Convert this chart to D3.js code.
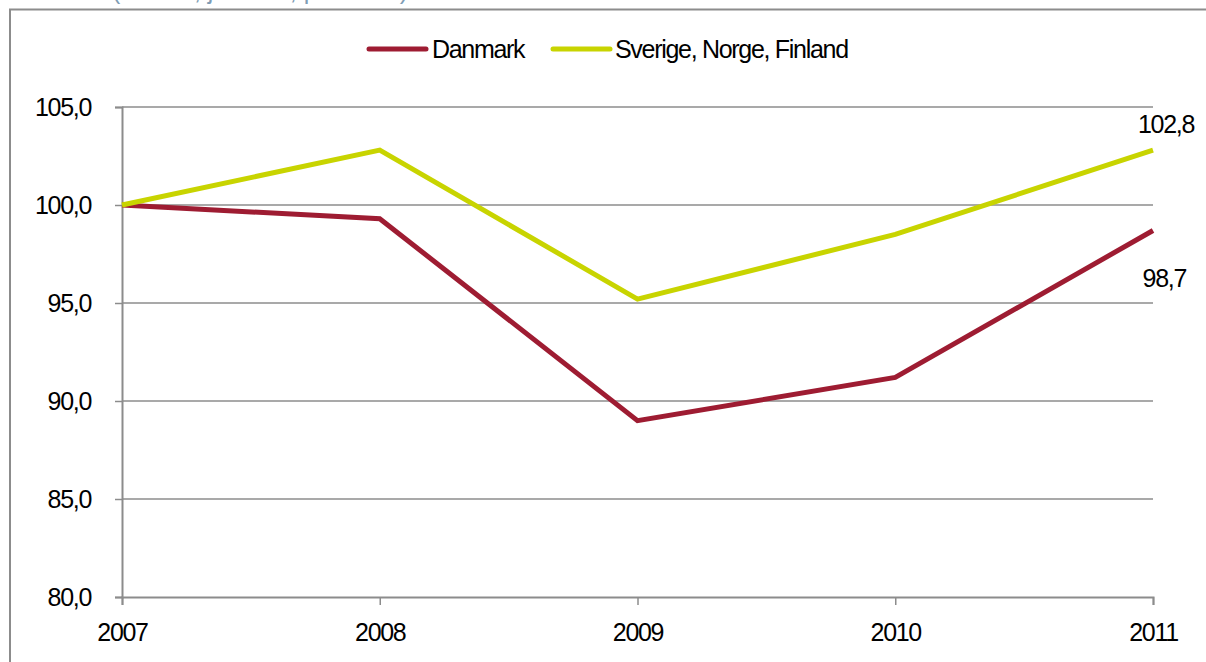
<!DOCTYPE html>
<html><head><meta charset="utf-8">
<script src="https://cdn.jsdelivr.net/npm/d3@7"></script>
<style>
body{margin:0;background:#fff;}
text{font-family:"Liberation Sans",Arial,sans-serif;fill:#000;}
</style></head>
<body><svg id="c" width="1206" height="662"></svg>
<script>
const years = ["2007","2008","2009","2010","2011"];
const danmark = [100.0, 99.3, 89.0, 91.2, 98.7];
const nordic = [100.0, 102.8, 95.2, 98.5, 102.8];
const yTicks = [80, 85, 90, 95, 100, 105];
const seriesNames = ["Danmark", "Sverige, Norge, Finland"];
const endLabels = ["98,7", "102,8"];
const titleText = "(Indeks, justeret, pr. ansat)";

const FS = 25, LS = -1.3;
const svg = d3.select("#c");
const fmt = v => d3.format(".1f")(v).replace(".", ",");
const colors = ["#9e1c32", "#c8d400"];
const x = d3.scalePoint().domain(years).range([122, 1153]);
const y = d3.scaleLinear().domain([80, 105]).range([597, 107]);

// title fragment (cut off at top, as in the reference)
svg.append("text").attr("x", 112).attr("y", -1.5).attr("font-size", FS)
  .style("fill", "#7f9db5").text(titleText);

// frame
svg.append("path").attr("d", "M10,662V9.5H1206").attr("fill", "none")
  .attr("stroke", "#8c8c8c").attr("stroke-width", 2);

// gridlines
svg.append("g").selectAll("line").data(yTicks.filter(t => t > 80)).join("line")
  .attr("x1", 122).attr("x2", 1153).attr("y1", d => y(d)).attr("y2", d => y(d))
  .attr("stroke", "#8c8c8c").attr("stroke-width", 1.5);

function styleText(sel) {
  sel.attr("font-size", FS).attr("letter-spacing", LS)
    .style("font-family", "Liberation Sans, Arial, sans-serif").attr("fill", "#000");
}

// y axis
const ya = svg.append("g").attr("transform", "translate(122,0)")
  .call(d3.axisLeft(y).tickValues(yTicks).tickFormat(fmt).tickSize(7).tickPadding(24));
ya.select(".domain").attr("stroke", "#8c8c8c").attr("stroke-width", 2);
ya.selectAll(".tick line").attr("stroke", "#8c8c8c").attr("stroke-width", 1.5);
styleText(ya.selectAll("text"));

// x axis
const xa = svg.append("g").attr("transform", "translate(0,597)")
  .call(d3.axisBottom(x).tickSize(8).tickPadding(18));
xa.select(".domain").attr("stroke", "#8c8c8c").attr("stroke-width", 2);
xa.selectAll(".tick line").attr("stroke", "#8c8c8c").attr("stroke-width", 1.5);
styleText(xa.selectAll("text"));

// lines
const line = d3.line().x((d, i) => x(years[i])).y(d => y(d));
[danmark, nordic].forEach((s, k) => {
  svg.append("path").datum(s).attr("d", line).attr("fill", "none")
    .attr("stroke", colors[k]).attr("stroke-width", 5).attr("stroke-linejoin", "miter");
});

// end labels
styleText(svg.append("text").attr("x", 1194).attr("y", y(nordic[4]) - 17).attr("text-anchor", "end").text(endLabels[1]));
styleText(svg.append("text").attr("x", 1186).attr("y", y(danmark[4]) + 57).attr("text-anchor", "end").text(endLabels[0]));

// legend
const lg = [[369, 432], [553, 615]];
seriesNames.forEach((n, k) => {
  svg.append("line").attr("x1", lg[k][0]).attr("x2", lg[k][0] + 57).attr("y1", 49).attr("y2", 49)
    .attr("stroke", colors[k]).attr("stroke-width", 5).attr("stroke-linecap", "round");
  styleText(svg.append("text").attr("x", lg[k][1]).attr("y", 58).text(n));
});
</script></body></html>
